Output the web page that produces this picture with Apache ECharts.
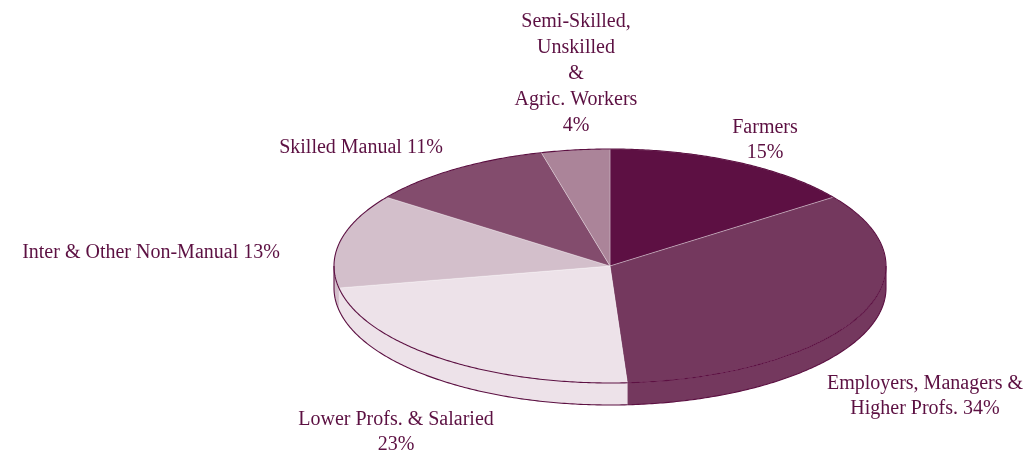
<!DOCTYPE html>
<html>
<head>
<meta charset="utf-8">
<script src="https://cdn.jsdelivr.net/npm/echarts@6/dist/echarts.min.js"></script>
<style>
html, body { margin: 0; padding: 0; background: #fff; }
#chart { width: 1029px; height: 459px; }
</style>
</head>
<body>
<div id="chart"></div>
<script>
// slices, clockwise from 12 o'clock
var categories = ['Farmers', 'Employers, Managers &\nHigher Profs.', 'Lower Profs. & Salaried',
    'Inter & Other Non-Manual', 'Skilled Manual', 'Semi-Skilled,\nUnskilled\n&\nAgric. Workers'];
var shares = [15, 34, 23, 13, 11, 4];
var sliceColors = ['#5d1043', '#74385e', '#ede2e9', '#d3bfcb', '#834c6d', '#ab8499'];
// does the percentage go on its own line
var valueBreak = ['\n', ' ', '\n', ' ', ' ', '\n'];

var edgeColor = '#5c1042';
var pie = { cx: 610, cy: 266, rx: 276, ry: 117, depth: 22 };
var labelAt = [[765, 140], [925, 396], [396, 432], [151, 253], [361, 148], [576, 74]];
var labelLine = [25, 25, 25, 25, 25, 26];

var total = shares.reduce(function (a, b) { return a + b; }, 0);
var rows = [];
var acc = 0;
shares.forEach(function (v) { rows.push([acc, v]); acc += v; });

function pt(t, dy) {
    return [pie.cx + pie.rx * Math.sin(t), pie.cy - pie.ry * Math.cos(t) + dy];
}
function arc(a0, a1, dy) {
    var n = Math.max(2, Math.ceil((a1 - a0) / 0.01));
    var out = [];
    for (var k = 0; k <= n; k++) out.push(pt(a0 + (a1 - a0) * k / n, dy));
    return out;
}

function renderItem(params, api) {
    var i = params.dataIndex;
    var a0 = api.value(0) / total * Math.PI * 2;
    var a1 = (api.value(0) + api.value(1)) / total * Math.PI * 2;
    var color = sliceColors[i];
    var kids = [];

    // front wall
    var s = Math.max(a0, Math.PI / 2), e = Math.min(a1, Math.PI * 1.5);
    if (s < e) {
        var top = arc(s, e, 0);
        var bot = arc(s, e, pie.depth);
        kids.push({ type: 'polygon', z2: 1, shape: { points: top.concat(bot.slice().reverse()) },
            style: { fill: color, stroke: null } });
        kids.push({ type: 'polyline', z2: 3, shape: { points: bot },
            style: { fill: null, stroke: edgeColor, lineWidth: 1.1 } });
    }
    [Math.PI / 2, Math.PI * 1.5].forEach(function (t) {
        if (a0 <= t && t <= a1) {
            kids.push({ type: 'polyline', z2: 3, shape: { points: [pt(t, 0), pt(t, pie.depth)] },
                style: { fill: null, stroke: edgeColor, lineWidth: 1.1 } });
        }
    });

    // top face
    kids.push({ type: 'polygon', z2: 2, shape: { points: [[pie.cx, pie.cy]].concat(arc(a0, a1, 0)) },
        style: { fill: color, stroke: 'rgba(255,255,255,0.5)', lineWidth: 0.6 } });
    kids.push({ type: 'polyline', z2: 3, shape: { points: arc(a0, a1, 0) },
        style: { fill: null, stroke: edgeColor, lineWidth: 1.1 } });

    // label
    kids.push({ type: 'text', z2: 4, x: labelAt[i][0], y: labelAt[i][1],
        style: {
            text: categories[i] + valueBreak[i] + shares[i] + '%',
            fill: edgeColor, fontFamily: 'Liberation Serif', fontSize: 20,
            align: 'center', verticalAlign: 'middle', lineHeight: labelLine[i]
        } });

    return { type: 'group', children: kids };
}

var chart = echarts.init(document.getElementById('chart'), null, { renderer: 'canvas' });
chart.setOption({
    animation: false,
    series: [{
        type: 'custom',
        coordinateSystem: 'none',
        silent: true,
        renderItem: renderItem,
        data: rows
    }]
});
</script>
</body>
</html>
